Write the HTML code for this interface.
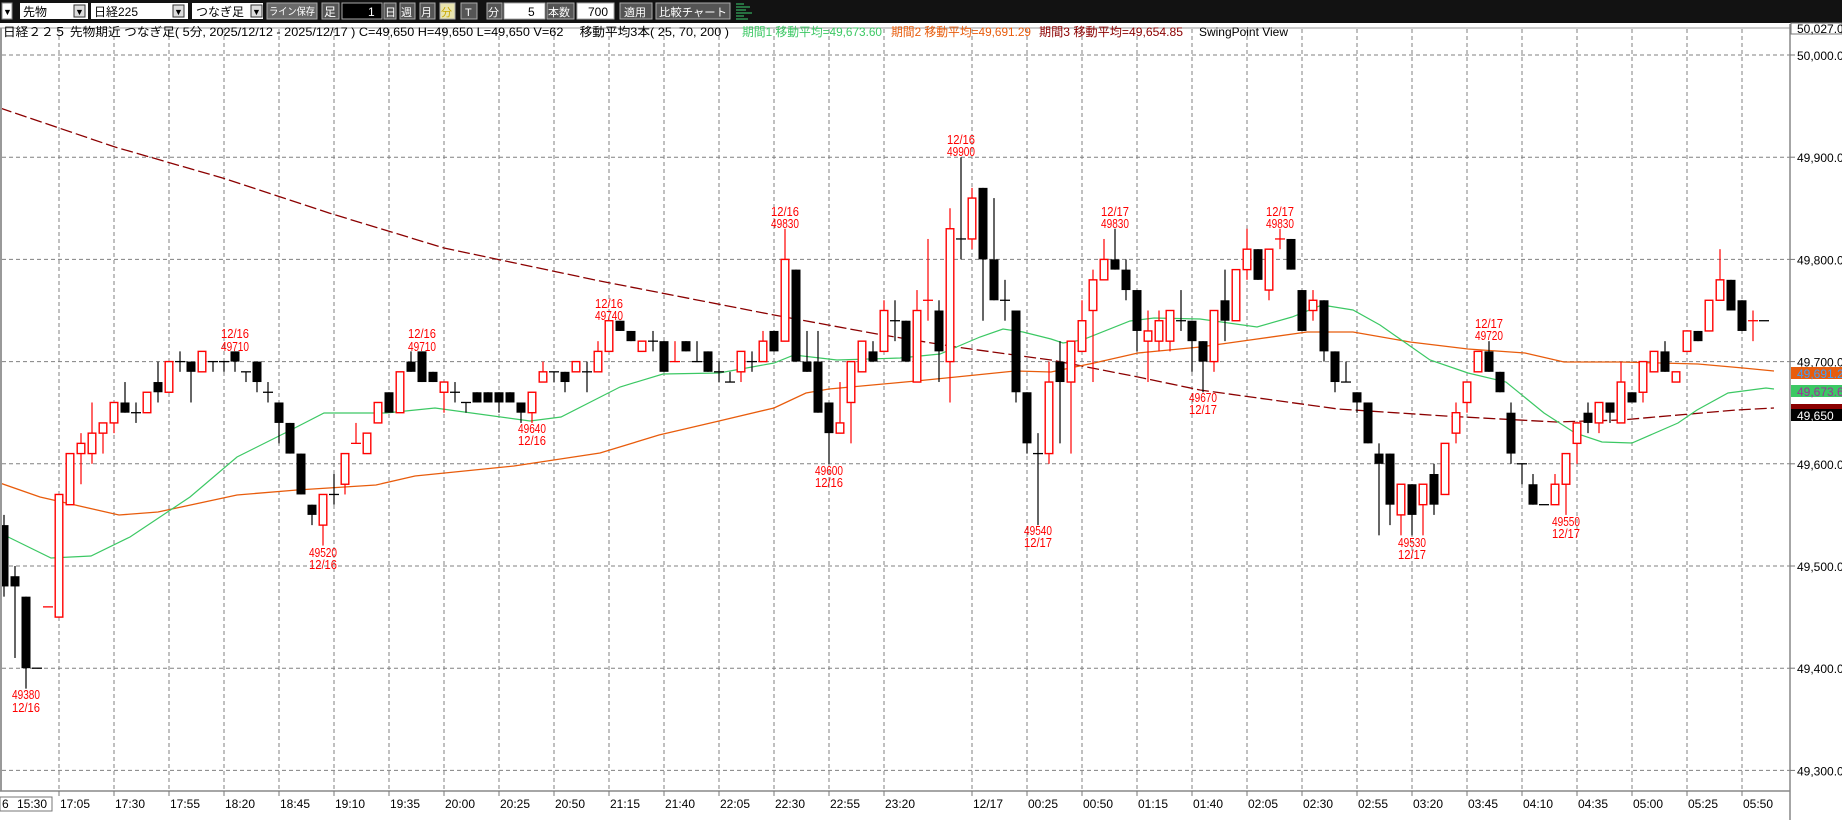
<!DOCTYPE html>
<html><head><meta charset="utf-8">
<style>
html,body{margin:0;padding:0;background:#fff;}
body{width:1842px;height:820px;overflow:hidden;position:relative;font-family:"Liberation Sans","Noto Sans CJK JP",sans-serif;}
svg text{font-family:"Liberation Sans","Noto Sans CJK JP",sans-serif;}
</style></head><body>
<svg id="s" width="1842" height="820" xmlns="http://www.w3.org/2000/svg">
<rect x="0" y="0" width="1842" height="820" fill="#fff"/>
<!-- top bar -->
<rect x="0" y="0" width="1842" height="23" fill="#121212"/>
<g font-size="12">
<rect x="2" y="3" width="10" height="16" fill="#fff" stroke="#888"/><text x="3" y="15" font-size="9">▼</text>
<rect x="20" y="3" width="68" height="16" fill="#fff"/><text x="23" y="16">先物</text>
<rect x="74" y="5" width="11" height="12" fill="#ddd" stroke="#333"/><text x="75" y="15" font-size="9">▼</text>
<rect x="91" y="3" width="97" height="16" fill="#fff"/><text x="94" y="16">日経225</text>
<rect x="173" y="5" width="11" height="12" fill="#ddd" stroke="#333"/><text x="174" y="15" font-size="9">▼</text>
<rect x="192" y="3" width="71" height="16" fill="#fff"/><text x="196" y="16">つなぎ足</text>
<rect x="251" y="5" width="11" height="12" fill="#ddd" stroke="#333"/><text x="252" y="15" font-size="9">▼</text>
<rect x="267" y="3" width="50" height="16" fill="#6a6a6a" stroke="#aaa"/><text x="269" y="15" fill="#fff" font-size="10" textLength="46" lengthAdjust="spacingAndGlyphs">ライン保存</text>
<rect x="322" y="3" width="17" height="16" fill="#555" stroke="#aaa"/><text x="324" y="16" fill="#fff">足</text>
<rect x="342" y="3" width="40" height="16" fill="#000" stroke="#aaa"/><text x="368" y="16" fill="#fff">1</text>
<rect x="384" y="3" width="12" height="16" fill="#555" stroke="#aaa"/><text x="385" y="16" fill="#fff" font-size="11">日</text>
<rect x="400" y="3" width="15" height="16" fill="#555" stroke="#aaa"/><text x="401" y="16" fill="#fff" font-size="11">週</text>
<rect x="420" y="3" width="15" height="16" fill="#555" stroke="#aaa"/><text x="421" y="16" fill="#fff" font-size="11">月</text>
<rect x="440" y="3" width="15" height="16" fill="#e8e4b0" stroke="#aaa"/><text x="441" y="16" fill="#c8a800" font-size="11">分</text>
<rect x="461" y="3" width="16" height="16" fill="#555" stroke="#aaa"/><text x="465" y="16" fill="#fff" font-size="11">T</text>
<rect x="487" y="3" width="15" height="16" fill="#555" stroke="#aaa"/><text x="488" y="16" fill="#fff" font-size="11">分</text>
<rect x="504" y="3" width="41" height="16" fill="#fff" stroke="#aaa"/><text x="528" y="16">5</text>
<rect x="547" y="3" width="27" height="16" fill="#555" stroke="#aaa"/><text x="548" y="16" fill="#fff" font-size="11">本数</text>
<rect x="577" y="3" width="37" height="16" fill="#fff" stroke="#aaa"/><text x="588" y="16">700</text>
<rect x="620" y="3" width="32" height="16" fill="#555" stroke="#aaa"/><text x="624" y="16" fill="#fff" font-size="11">適用</text>
<rect x="656" y="3" width="74" height="16" fill="#555" stroke="#aaa"/><text x="659" y="16" fill="#fff" font-size="11" textLength="68" lengthAdjust="spacingAndGlyphs">比較チャート</text>
<g stroke="#3cd070" stroke-width="1"><line x1="736" y1="4" x2="744" y2="4"/><line x1="736" y1="7" x2="750" y2="7"/><line x1="736" y1="10" x2="746" y2="10"/><line x1="736" y1="13" x2="752" y2="13"/><line x1="736" y1="16" x2="744" y2="16"/><line x1="736" y1="19" x2="748" y2="19"/></g>
</g>
<g id="grid"></g>
<g id="ma"></g>
<g id="cs"></g>
<g id="lbl"></g>
<!-- header line -->
<line x1="0" y1="28" x2="1790" y2="28" stroke="#999"/>
<g font-size="12">
<text x="3" y="36" fill="#000" textLength="726" lengthAdjust="spacingAndGlyphs">日経２２５ 先物期近 つなぎ足( 5分, 2025/12/12 - 2025/12/17 ) C=49,650 H=49,650 L=49,650 V=62 　移動平均3本( 25, 70, 200 )</text>
<text x="742" y="36" fill="#3cc864" textLength="140" lengthAdjust="spacingAndGlyphs">期間1 移動平均=49,673.60</text>
<text x="891" y="36" fill="#e85c0c" textLength="140" lengthAdjust="spacingAndGlyphs">期間2 移動平均=49,691.29</text>
<text x="1039" y="36" fill="#8b0000" textLength="144" lengthAdjust="spacingAndGlyphs">期間3 移動平均=49,654.85</text>
<text x="1199" y="36" fill="#000" textLength="89" lengthAdjust="spacingAndGlyphs">SwingPoint View</text>
</g>
<!-- axes -->
<line x1="1" y1="28" x2="1" y2="791" stroke="#999" stroke-width="2"/>
<line x1="1790" y1="24" x2="1790" y2="820" stroke="#888" stroke-width="1.5"/>
<line x1="0" y1="791" x2="1790" y2="791" stroke="#888" stroke-width="1.5"/>
<rect x="1791" y="23" width="51" height="11" fill="#fff" stroke="#777"/>
<text x="1797" y="33" font-size="12" fill="#000">50,027.0</text>
<g id="ax" font-size="12"></g>
<rect x="1791" y="367" width="51" height="12" fill="#e85c0c"/><text x="1797" y="378" font-size="12" fill="#3aa0ff">49,691.29</text>
<rect x="1791" y="385" width="51" height="12" fill="#3cc864"/><text x="1797" y="396" font-size="12" fill="#a0309a">49,673.60</text>
<rect x="1791" y="404" width="51" height="5" fill="#8b0000"/>
<rect x="1791" y="409" width="51" height="12" fill="#000"/><text x="1797" y="420" font-size="12" fill="#fff">49,650</text>
<rect x="0" y="797" width="52" height="14" fill="#fff" stroke="#777"/>
<text x="2" y="808" font-size="12">6</text><text x="17" y="808" font-size="12">15:30</text>
</svg>
<script>
var NS="http://www.w3.org/2000/svg";
function Y(p){return 55+(50000-p)*1.022;}
function X(i){return 59+11*i;}
function add(g,tag,a,txt){var e=document.createElementNS(NS,tag);for(var k in a)e.setAttribute(k,a[k]);if(txt!=null)e.textContent=txt;document.getElementById(g).appendChild(e);return e;}
// grid
var gi=[];for(var k=0;k<=15;k++)gi.push(5*k);for(var k=0;k<=14;k++)gi.push(83+5*k);
var labs=["17:05","17:30","17:55","18:20","18:45","19:10","19:35","20:00","20:25","20:50","21:15","21:40","22:05","22:30","22:55","23:20","12/17","00:25","00:50","01:15","01:40","02:05","02:30","02:55","03:20","03:45","04:10","04:35","05:00","05:25","05:50"];
gi.forEach(function(i,n){var x=X(i);add("grid","line",{x1:x,y1:29,x2:x,y2:791,stroke:"#808080","stroke-dasharray":"4,3"});
add("ax","line",{x1:x,y1:791,x2:x,y2:796,stroke:"#777"});
add("ax","text",{x:x+1,y:808,fill:"#000"},labs[n]);});
for(var p=50000;p>=49300;p-=100){var y=Y(p);add("grid","line",{x1:2,y1:y,x2:1790,y2:y,stroke:"#808080","stroke-dasharray":"4,3"});
add("ax","line",{x1:1790,y1:y,x2:1795,y2:y,stroke:"#777"});
add("ax","text",{x:1797,y:y+5,fill:"#000"},(p/1000|0)+","+String(p%1000).padStart(3,"0")+".0");}
// MAs
var green=[[0,533],[51,558],[91,556],[130,537],[190,497],[237,457],[285,433],[324,413],[386,413],[435,408],[530,421],[561,417],[620,387],[663,374],[719,373],[774,363],[794,355],[837,360],[900,358],[940,354],[980,337],[1003,329],[1023,332],[1051,339],[1063,343],[1082,340],[1130,321],[1154,318],[1200,319],[1257,327],[1292,317],[1322,305],[1353,310],[1380,325],[1430,360],[1468,373],[1506,382],[1544,413],[1575,433],[1602,442],[1632,443],[1678,423],[1697,410],[1728,393],[1766,388],[1774,389]];
var orange=[[0,483],[40,497],[119,515],[158,512],[237,495],[297,490],[376,485],[415,476],[514,466],[600,453],[659,435],[719,421],[774,408],[806,393],[829,389],[916,381],[956,377],[1015,371],[1051,372],[1094,363],[1138,353],[1200,347],[1250,340],[1307,332],[1353,332],[1410,342],[1468,349],[1525,353],[1564,362],[1621,362],[1698,364],[1743,368],[1774,371]];
var dred=[[0,108],[115,147],[226,179],[329,213],[444,248],[600,281],[774,315],[877,334],[956,347],[1051,360],[1138,377],[1200,390],[1338,409],[1445,416],[1556,422],[1621,420],[1736,410],[1774,408]];
function pl(a){return a.map(function(p){return p[0]+","+p[1];}).join(" ");}
add("ma","polyline",{points:pl(dred),fill:"none",stroke:"#8b0000","stroke-width":1.3,"stroke-dasharray":"12,4"});
add("ma","polyline",{points:pl(orange),fill:"none",stroke:"#e85c0c","stroke-width":1.3});
add("ma","polyline",{points:pl(green),fill:"none",stroke:"#3cc864","stroke-width":1.2});
// candles [O,C,H,L,(1 red doji)]
var D={
"-5":[49540,49480,49550,49470],"-4":[49490,49480,49500,49410],"-3":[49470,49400,49470,49380],"-2":[49400,49400,49400,49400],"-1":[49460,49460,49460,49460,1],
0:[49450,49570,49570,49450],1:[49560,49610,49610,49560],2:[49610,49620,49630,49580],3:[49610,49630,49660,49600],4:[49630,49640,49640,49610],
5:[49640,49660,49660,49630],6:[49660,49650,49680,49650],7:[49650,49650,49660,49640],8:[49650,49670,49670,49650],9:[49680,49670,49700,49660],
10:[49670,49700,49700,49670],11:[49700,49700,49710,49690],12:[49700,49690,49700,49660],13:[49690,49710,49710,49690],14:[49700,49700,49700,49690],
15:[49700,49700,49700,49690],16:[49710,49700,49710,49690],17:[49690,49690,49690,49680],18:[49700,49680,49700,49670],19:[49670,49670,49680,49660],
20:[49660,49640,49660,49620],21:[49640,49610,49640,49610],22:[49610,49570,49610,49570],23:[49560,49550,49560,49540],24:[49540,49570,49570,49520],
25:[49570,49570,49590,49560],26:[49580,49610,49610,49570],27:[49620,49620,49640,49620,1],28:[49610,49630,49630,49610],29:[49640,49660,49660,49640],
30:[49670,49650,49670,49650],31:[49650,49690,49690,49650],32:[49700,49690,49710,49690],33:[49710,49680,49710,49680],34:[49690,49680,49690,49680],
35:[49670,49680,49680,49650],36:[49670,49670,49680,49660],37:[49660,49660,49660,49650],38:[49670,49660,49670,49660],39:[49670,49660,49670,49660],
40:[49670,49660,49670,49650],41:[49670,49660,49670,49660],42:[49660,49650,49660,49640],43:[49650,49670,49670,49640],44:[49680,49690,49700,49680],
45:[49690,49690,49690,49680],46:[49690,49680,49690,49670],47:[49690,49700,49700,49690],48:[49690,49690,49700,49670],49:[49690,49710,49720,49690],
50:[49710,49740,49740,49710],51:[49740,49730,49740,49730],52:[49730,49720,49730,49720],53:[49710,49720,49720,49710],54:[49720,49720,49730,49710],
55:[49720,49690,49720,49690],56:[49700,49700,49720,49700,1],57:[49720,49710,49720,49710],58:[49700,49700,49720,49700],59:[49710,49690,49710,49690],
60:[49690,49690,49700,49680],61:[49680,49680,49690,49680],62:[49690,49710,49710,49680],63:[49700,49700,49710,49690],64:[49700,49720,49730,49700],
65:[49730,49710,49730,49710],66:[49720,49800,49830,49720],67:[49790,49700,49790,49700],68:[49700,49690,49730,49690],69:[49700,49650,49730,49650],
70:[49660,49630,49660,49600],71:[49630,49640,49680,49630],72:[49660,49700,49700,49620],73:[49690,49720,49720,49690],74:[49710,49700,49720,49700],
75:[49710,49750,49760,49710],76:[49740,49740,49760,49720],77:[49740,49700,49740,49700],78:[49680,49750,49770,49680],79:[49760,49760,49820,49740,1],
80:[49750,49710,49760,49680],81:[49700,49830,49850,49660],82:[49820,49820,49900,49800],83:[49820,49860,49870,49810],84:[49870,49800,49870,49740],
85:[49800,49760,49860,49760],86:[49760,49760,49780,49740],87:[49750,49670,49750,49660],88:[49670,49620,49670,49610],89:[49610,49610,49630,49540],
90:[49610,49680,49700,49600],91:[49700,49680,49720,49620],92:[49680,49720,49720,49610],93:[49710,49740,49760,49710],94:[49750,49780,49790,49680],
95:[49780,49800,49820,49780],96:[49800,49790,49830,49790],97:[49790,49770,49800,49760],98:[49770,49730,49770,49710],99:[49720,49730,49750,49680],
100:[49720,49740,49750,49710],101:[49720,49750,49750,49710],102:[49740,49740,49770,49730],103:[49740,49720,49740,49690],104:[49720,49700,49720,49670],
105:[49700,49750,49750,49690],106:[49760,49740,49790,49720],107:[49740,49790,49790,49740],108:[49790,49810,49830,49780],109:[49810,49780,49810,49780],
110:[49770,49810,49810,49760],111:[49820,49820,49830,49810,1],112:[49820,49790,49820,49790],113:[49770,49730,49770,49730],114:[49750,49760,49770,49740],
115:[49760,49710,49760,49700],116:[49710,49680,49710,49670],117:[49680,49680,49700,49680],118:[49670,49660,49670,49650],119:[49660,49620,49660,49620],
120:[49610,49600,49620,49530],121:[49610,49560,49610,49540],122:[49550,49580,49580,49530],123:[49580,49550,49580,49530],124:[49560,49580,49580,49530],
125:[49590,49560,49600,49550],126:[49570,49620,49620,49570],127:[49630,49650,49660,49620],128:[49660,49680,49680,49650],129:[49690,49710,49710,49690],
130:[49710,49690,49720,49690],131:[49690,49670,49690,49670],132:[49650,49610,49660,49600],133:[49600,49600,49600,49580],134:[49580,49560,49590,49560],
135:[49560,49560,49560,49560],136:[49560,49580,49590,49560],137:[49580,49610,49610,49550],138:[49620,49640,49640,49600],139:[49650,49640,49660,49630],
140:[49640,49660,49660,49630],141:[49660,49650,49660,49640],142:[49640,49680,49700,49640],143:[49670,49660,49670,49660],144:[49670,49700,49700,49660],
145:[49690,49710,49710,49690],146:[49710,49690,49720,49690],147:[49680,49690,49690,49680],148:[49710,49730,49730,49710],149:[49730,49720,49730,49720],
150:[49730,49760,49760,49730],151:[49760,49780,49810,49760],152:[49780,49750,49780,49750],153:[49760,49730,49760,49730],154:[49740,49740,49750,49720,1],
155:[49740,49740,49740,49740]};
for(var k in D){var i=+k,d=D[k],x=X(i),o=d[0],c=d[1],h=d[2],l=d[3];
 var red=c>o||(c==o&&d[4]);var col=red?"#ff0000":"#000";
 if(h>l)add("cs","line",{x1:x,y1:Y(h),x2:x,y2:Y(l),stroke:col,"stroke-width":1.2});
 if(c==o){add("cs","line",{x1:x-5,y1:Y(o),x2:x+5,y2:Y(o),stroke:col,"stroke-width":1.3});}
 else if(red){var t=Y(c),b=Y(o);add("cs","rect",{x:x-3.8,y:t,width:7.6,height:b-t,fill:"#fff",stroke:"#ff0000","stroke-width":1.4});}
 else{var t=Y(o),b=Y(c);add("cs","rect",{x:x-4.5,y:t,width:9,height:b-t,fill:"#000"});}
}
// swing labels [i, line1, line2, y1, y2]
var L=[[-3,"49380","12/16",694,707],[16,"12/16","49710",333,346],[24,"49520","12/16",552,564],[33,"12/16","49710",333,346],[43,"49640","12/16",428,440],
[50,"12/16","49740",303,315],[66,"12/16","49830",211,223],[70,"49600","12/16",470,482],[82,"12/16","49900",139,151],[89,"49540","12/17",530,542],
[96,"12/17","49830",211,223],[104,"49670","12/17",397,409],[111,"12/17","49830",211,223],[123,"49530","12/17",542,554],[130,"12/17","49720",323,335],[137,"49550","12/17",521,533]];
L.forEach(function(a){var x=X(a[0]);
 add("lbl","text",{x:x-14,y:a[3]+5,fill:"#ff0000","font-size":13,textLength:28,lengthAdjust:"spacingAndGlyphs"},a[1]);
 add("lbl","text",{x:x-14,y:a[4]+5,fill:"#ff0000","font-size":13,textLength:28,lengthAdjust:"spacingAndGlyphs"},a[2]);});
</script>
</body></html>
